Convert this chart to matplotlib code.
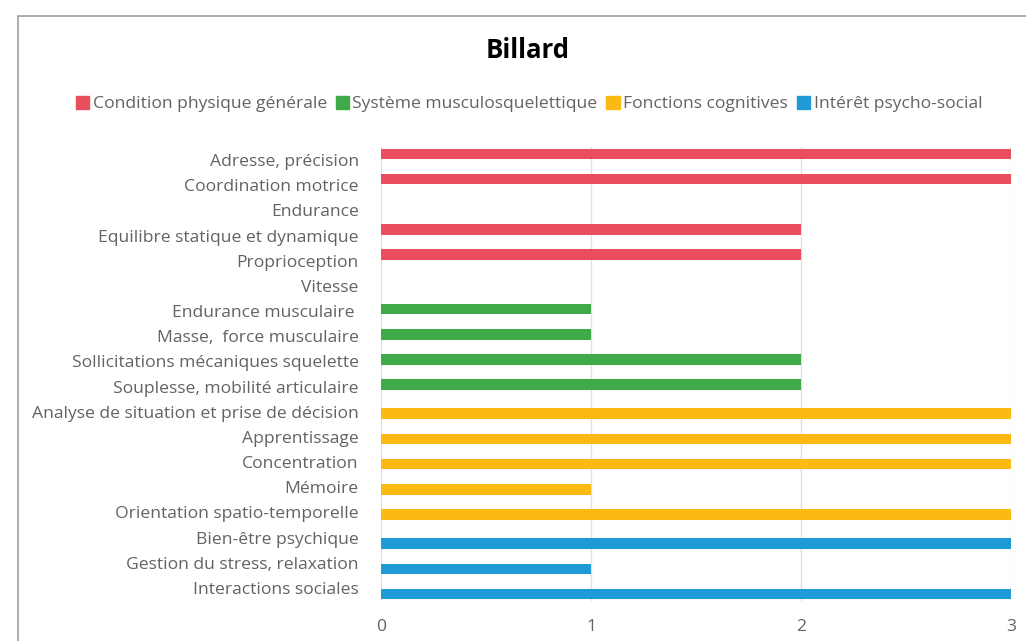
import matplotlib
matplotlib.use("Agg")
import matplotlib.pyplot as plt
from matplotlib.patches import Rectangle, Patch
import numpy as np

plt.rcParams['font.family'] = ['Open Sans', 'DejaVu Sans']

categories = [
    "Adresse, précision", "Coordination motrice", "Endurance",
    "Equilibre statique et dynamique", "Proprioception", "Vitesse",
    "Endurance musculaire ", "Masse,  force musculaire",
    "Sollicitations mécaniques squelette", "Souplesse, mobilité articulaire",
    "Analyse de situation et prise de décision", "Apprentissage",
    "Concentration", "Mémoire", "Orientation spatio-temporelle",
    "Bien-être psychique", "Gestion du stress, relaxation",
    "Interactions sociales",
]
series_names = ["Condition physique générale", "Système musculosquelettique",
                "Fonctions cognitives", "Intérêt psycho-social"]
condition = [3, 3, 0, 2, 2, 0, 0, 0, 0, 0, 0, 0, 0, 0, 0, 0, 0, 0]
musculo   = [0, 0, 0, 0, 0, 0, 1, 1, 2, 2, 0, 0, 0, 0, 0, 0, 0, 0]
cognitif  = [0, 0, 0, 0, 0, 0, 0, 0, 0, 0, 3, 3, 3, 1, 3, 0, 0, 0]
psycho    = [0, 0, 0, 0, 0, 0, 0, 0, 0, 0, 0, 0, 0, 0, 0, 3, 1, 3]
xticks = [0, 1, 2, 3]
colors = ["#E84E5B", "#3FAA48", "#FDB913", "#1E9AD6"]

W, H = 1026, 641
fig = plt.figure(figsize=(W/100, H/100), dpi=100)
ax = fig.add_axes([381/W, 1-600.6/H, (1011-381)/W, (600.6-147.4)/H])

y = np.arange(len(categories))
offsets = [-0.24, -0.08, 0.08, 0.24]
for vals, off, c, name in zip([condition, musculo, cognitif, psycho], offsets, colors, series_names):
    ax.barh(y + off, vals, height=0.42, color=c, label=name, zorder=3)

ax.set_xlim(0, 3)
ax.set_ylim(len(categories) - 0.5, -0.5)
ax.set_yticks(y)
ax.set_yticklabels(categories)
ax.set_xticks(xticks)
ax.set_xticklabels([str(t) for t in xticks])
ax.tick_params(axis='both', length=0, labelsize=12.6, labelcolor="#636363")
ax.tick_params(axis='y', pad=16)
ax.tick_params(axis='x', pad=13)
for s in ax.spines.values():
    s.set_visible(False)
ax.grid(axis='x', color="#EADCDC", linewidth=1, zorder=0)
ax.set_axisbelow(True)

fig.text(528/W, 1-50/H, "Billard", ha='center', va='center', fontsize=18.5,
         fontweight='bold', color='black')

handles = [Patch(facecolor=c, edgecolor=c) for c in colors]
fig.legend(handles, series_names, loc='center', bbox_to_anchor=(529/W, 1-104/H),
           ncol=4, frameon=False, fontsize=12.6, handlelength=0.75, handleheight=0.75,
           handletextpad=0.22, columnspacing=0.5, labelcolor="#636363")

fig.add_artist(Rectangle((18/W, -0.1), 1.2, 1.1 - 16/H, transform=fig.transFigure,
                         fill=False, edgecolor="#A6A6A6", linewidth=1.3, clip_on=False))

fig.savefig("out.png", dpi=100)
